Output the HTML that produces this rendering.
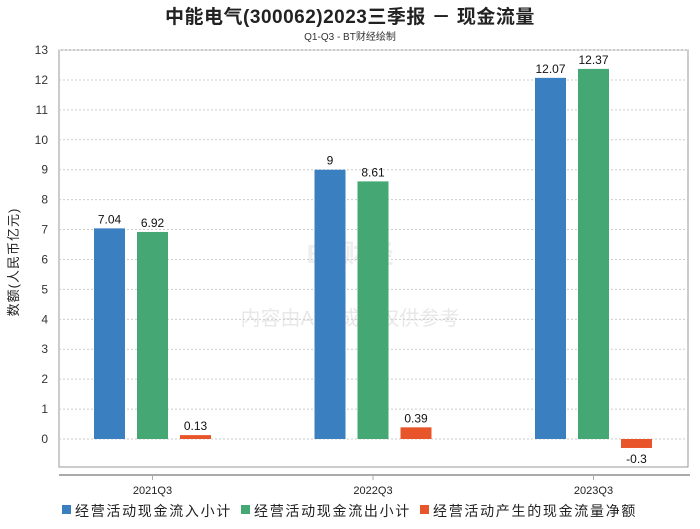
<!DOCTYPE html>
<html><head><meta charset="utf-8"><style>
body{margin:0;background:#fff;font-family:"Liberation Sans","Noto Sans CJK SC",sans-serif}
svg text{font-family:"Liberation Sans","Noto Sans CJK SC",sans-serif}
</style></head><body>
<svg id="c" width="700" height="524" xmlns="http://www.w3.org/2000/svg">
<text x="350" y="23" text-anchor="middle" font-size="19" font-weight="bold" letter-spacing="0.5" fill="#222">中能电气(300062)2023三季报 － 现金流量</text>
<text x="350" y="40" text-anchor="middle" font-size="10" fill="#333">Q1-Q3 - BT财经绘制</text>
<rect x="59" y="50" width="629" height="417" fill="none" stroke="#999"/>
<line x1="59" y1="475" x2="690" y2="475" stroke="#aaa" stroke-width="2"/>
<text x="18" y="262" font-size="13" fill="#222" transform="rotate(-90 18 262)" text-anchor="middle" letter-spacing="1">数额(人民币亿元)</text>
<text x="350" y="325" text-anchor="middle" font-size="20" fill="#e8e8e8">内容由AI生成，仅供参考</text>
<text x="350" y="263" text-anchor="middle" font-size="26" font-weight="bold" fill="#eeeeee">BT财经</text>
<g id="g"></g>
<g>
<rect x="62" y="505" width="9" height="9" fill="#3a80c0"/>
<text x="75" y="516" font-size="14" letter-spacing="1.7" fill="#222">经营活动现金流入小计</text>
<rect x="241" y="505" width="9" height="9" fill="#45a874"/>
<text x="254" y="516" font-size="14" letter-spacing="1.7" fill="#222">经营活动现金流出小计</text>
<rect x="420" y="505" width="9" height="9" fill="#e9552a"/>
<text x="433" y="516" font-size="14" letter-spacing="1.7" fill="#222">经营活动产生的现金流量净额</text>
</g>
</svg>
<script>
const categories=["2021Q3","2022Q3","2023Q3"];
const inflow=[7.04,9,12.07];
const outflow=[6.92,8.61,12.37];
const net=[0.13,0.39,-0.3];
const yTicks=[0,1,2,3,4,5,6,7,8,9,10,11,12,13];
const NS="http://www.w3.org/2000/svg";
const g=document.getElementById('g');
function y(v){return 439-v*29.92;}
function xc(i){return 373+(i-1)*220.5;}
function mk(t,a){const e=document.createElementNS(NS,t);for(const k in a)e.setAttribute(k,a[k]);g.appendChild(e);return e;}
yTicks.forEach(v=>{
  const l=mk('line',{x1:59,x2:688,y1:y(v),y2:y(v),stroke:'#ccc','stroke-dasharray':'2,2'});
  
  
  const t=mk('text',{x:48,y:y(v)+4,'text-anchor':'end','font-size':12,fill:'#333'});
  t.textContent=v;
  
  
});
const series=[[inflow,'#3a80c0',-43,'inflow'],[outflow,'#45a874',0,'outflow'],[net,'#e9552a',43,'net']];
categories.forEach((c,i)=>{
  const tk=mk('line',{x1:xc(i),x2:xc(i),y1:475,y2:480,stroke:'#aaa'});
  
  
  const t=mk('text',{x:xc(i),y:494,'text-anchor':'middle','font-size':11,fill:'#222'});
  t.textContent=c;
  
  
  series.forEach(([arr,col,off,nm])=>{
    const v=arr[i];const cx=xc(i)+off;
    const top=Math.min(y(v),y(0)),h=Math.abs(y(v)-y(0));
    const r=mk('rect',{x:cx-15.5,y:top,width:31,height:h,fill:col});
    
    
    const lt=mk('text',{x:cx,y:v>=0?y(v)-5:y(v)+15,'text-anchor':'middle','font-size':12,fill:'#111'});
    lt.textContent=v;
    
    
  });
});
</script>
</body></html>
